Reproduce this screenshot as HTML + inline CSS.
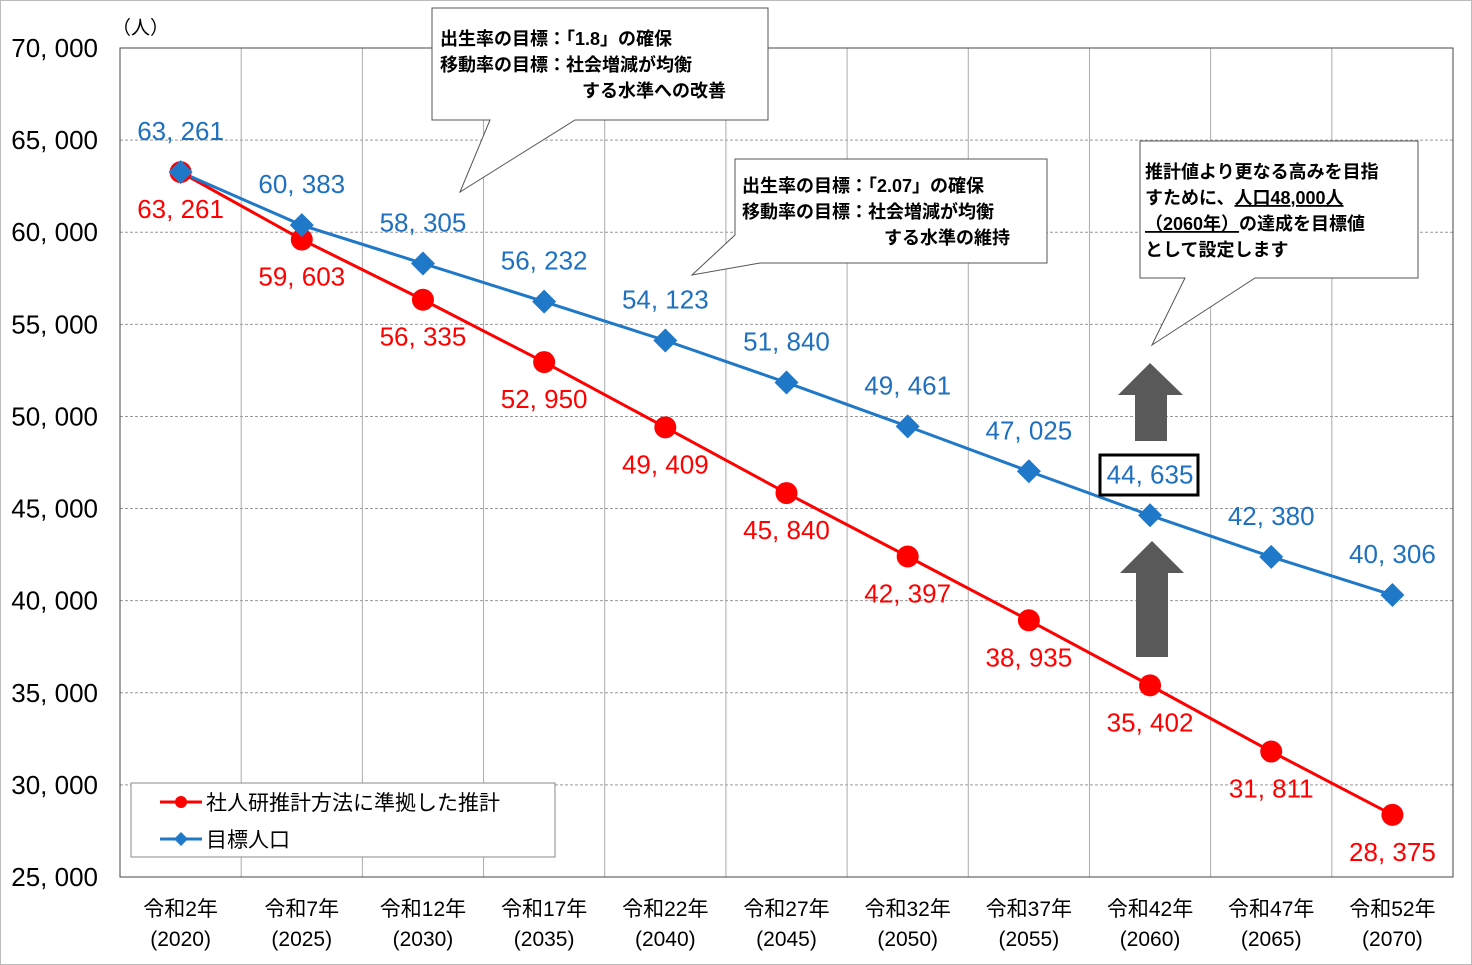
<!DOCTYPE html>
<html><head><meta charset="utf-8"><style>
body{margin:0;background:#fff;}
svg{display:block;font-family:"Liberation Sans","Noto Sans CJK JP",sans-serif;}
.num{font-family:"Liberation Sans Narrow","Liberation Sans","Noto Sans CJK JP",sans-serif;font-size:26px;}
</style></head><body>
<svg id="chart" width="1472" height="965" viewBox="0 0 1472 965">
<rect x="0.5" y="0.5" width="1471" height="964" fill="#fff" stroke="#bbb"/>
<g id="grid"></g>
<g id="axes"></g>
<g id="series"></g>
<g id="labels"></g>
<path d="M432,8 H768 V120 H575 L460,192 L490,120 H432 Z" fill="#fff" stroke="#555"/>
<text font-size="18" font-weight="bold" fill="#000"><tspan x="440" y="45">出生率の目標：「1.8」の確保</tspan><tspan x="440" y="71">移動率の目標：社会増減が均衡</tspan><tspan x="582" y="97">する水準への改善</tspan></text>
<path d="M735,159 H1047 V263 H760 L692,275 L735,235 Z" fill="#fff" stroke="#555"/>
<text font-size="18" font-weight="bold" fill="#000"><tspan x="742" y="192">出生率の目標：「2.07」の確保</tspan><tspan x="742" y="218">移動率の目標：社会増減が均衡</tspan><tspan x="884" y="244">する水準の維持</tspan></text>
<path d="M1140,141 H1418 V278 H1255 L1152,345 L1185,278 H1140 Z" fill="#fff" stroke="#555"/>
<text font-size="18" font-weight="bold" fill="#000"><tspan x="1145" y="178">推計値より更なる高みを目指</tspan><tspan x="1145" y="204">すために、</tspan><tspan text-decoration="underline">人口48,000人</tspan><tspan x="1145" y="230" text-decoration="underline">（2060年）</tspan><tspan>の達成を目標値</tspan><tspan x="1145" y="256">として設定します</tspan></text>
<path d="M1150,363 L1183,395 H1167 V441 H1135 V395 H1118 Z" fill="#595959"/>
<path d="M1152,541 L1184,573 H1168 V657 H1136 V573 H1120 Z" fill="#595959"/>
<rect x="1100" y="455" width="98" height="40" fill="#fff" stroke="#000" stroke-width="3"/>
<g>
<rect x="131" y="783" width="424" height="74" fill="#fff" stroke="#888"/>
<g><line x1="160" y1="802" x2="202" y2="802" stroke="#f00" stroke-width="3"/><circle cx="181" cy="802" r="6" fill="#f00"/><text x="206" y="810" font-size="21">社人研推計方法に準拠した推計</text></g>
<g><line x1="160" y1="839" x2="202" y2="839" stroke="#1f78c8" stroke-width="3"/><path d="M181,832 L188,839 L181,846 L174,839 Z" fill="#1f78c8"/><text x="206" y="847" font-size="21">目標人口</text></g>
</g>
<text x="112" y="34" font-size="19">（人）</text>
</svg>
<script>
const categories=["令和2年","令和7年","令和12年","令和17年","令和22年","令和27年","令和32年","令和37年","令和42年","令和47年","令和52年"];
const years=["2020","2025","2030","2035","2040","2045","2050","2055","2060","2065","2070"];
const estimate=[63261,59603,56335,52950,49409,45840,42397,38935,35402,31811,28375];
const target=[63261,60383,58305,56232,54123,51840,49461,47025,44635,42380,40306];
const yTicks=[25000,30000,35000,40000,45000,50000,55000,60000,65000,70000];
const NS="http://www.w3.org/2000/svg";
const L=120,R=1453,T=48,B=877,ymin=25000,ymax=70000;
const step=(R-L)/categories.length;
const x=i=>L+step*(i+0.5);
const y=v=>B-(v-ymin)/(ymax-ymin)*(B-T);
const fmt=v=>String(v).replace(/\B(?=(\d{3})+(?!\d))/g,", ");
function mk(tag,attrs,parent){const e=document.createElementNS(NS,tag);for(const k in attrs)e.setAttribute(k,attrs[k]);document.getElementById(parent).appendChild(e);return e;}
yTicks.forEach(t=>{
 if(t>ymin){const l=mk('line',{x1:L,x2:R,y1:y(t),y2:y(t),stroke:'#999','stroke-dasharray':'3,2'},'grid');
 
 }
 const tx=mk('text',{x:98,y:y(t)+9,'text-anchor':'end','font-size':'25',class:'num'},'axes');tx.textContent=fmt(t);
 
 
});
for(let i=1;i<categories.length;i++){const l=mk('line',{x1:L+step*i,x2:L+step*i,y1:T,y2:B,stroke:'#aaa'},'grid');
 
 }
const frame=mk('rect',{x:L,y:T,width:R-L,height:B-T,fill:'none',stroke:'#444'},'axes');


categories.forEach((c,i)=>{
 const t=mk('text',{x:x(i),y:916,'text-anchor':'middle','font-size':'21'},'axes');t.textContent=c;
 
 
 const t2=mk('text',{x:x(i),y:946,'text-anchor':'middle','font-size':'21'},'axes');t2.textContent='('+years[i]+')';
 
 
});
const pe=mk('polyline',{points:estimate.map((v,i)=>x(i)+','+y(v)).join(' '),fill:'none',stroke:'#f00','stroke-width':'3'},'series');


const pt=mk('polyline',{points:target.map((v,i)=>x(i)+','+y(v)).join(' '),fill:'none',stroke:'#1f78c8','stroke-width':'3'},'series');


estimate.forEach((v,i)=>{
 const c=mk('circle',{cx:x(i),cy:y(v),r:11,fill:'#f00'},'series');
 
 
 const t=mk('text',{x:x(i),y:y(v)+46,'text-anchor':'middle',fill:'#f00',class:'num'},'labels');t.textContent=fmt(v);
 
 
});
target.forEach((v,i)=>{
 const xx=x(i),yy=y(v);
 const d=mk('path',{d:`M${xx},${yy-12} L${xx+12},${yy} L${xx},${yy+12} L${xx-12},${yy} Z`,fill:'#1f78c8'},'series');
 
 
 const t=mk('text',{x:xx,y:yy-32,'text-anchor':'middle',fill:'#1f70c0',class:'num'},'labels');t.textContent=fmt(v);
 
 
});
document.getElementById('chart').appendChild(document.getElementById('labels'));
</script>
</body></html>
